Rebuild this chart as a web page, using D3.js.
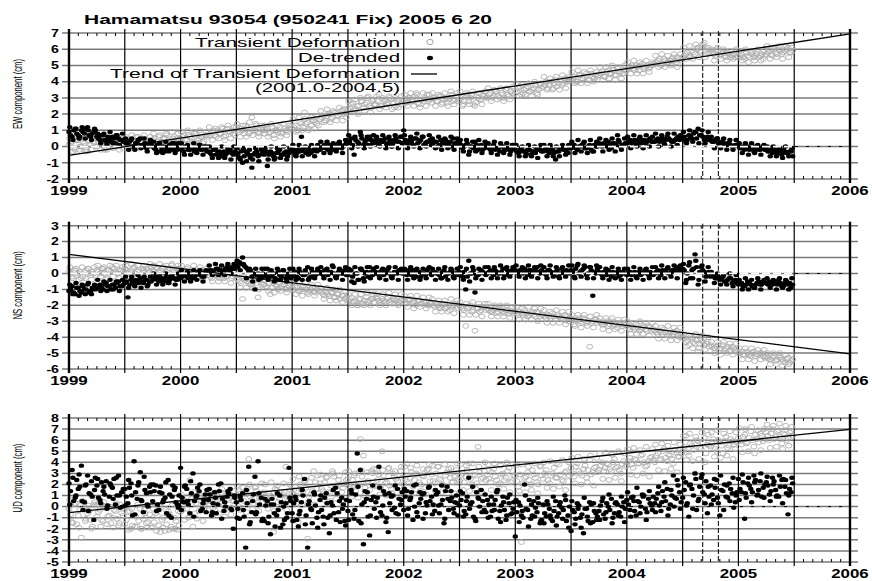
<!DOCTYPE html>
<html>
<head>
<meta charset="utf-8">
<script src="https://d3js.org/d3.v7.min.js"></script>
<style>
  body { margin: 0; background: #fff; }
  svg { display: block; font-family: "Liberation Sans", Arial, Helvetica, sans-serif; }
</style>
</head>
<body>
<script>
// GPS solutions thinned to one value every 1/36 year from 1999.0,
// plus extra sets taken a half ("Mid") or a quarter ("Q") step later
const epochStart = 1999;
const epochStep = 1 / 36;

const ewTransient = [
  0.1,0.3,-0.2,0.4,0.0,0.2,-0.3,0.1,0.3, 0.0,0.4,0.2,-0.1,0.3,0.1,0.5,0.0,0.2,
  0.3,0.1,0.4,0.2,-0.1,0.3,0.5,0.2,0.3, 0.4,0.2,0.6,0.3,0.5,0.1,0.4,0.6,0.5,
  0.5,0.7,0.4,0.6,0.3,0.8,0.5,0.6,0.7, 0.6,0.9,0.7,1.0,0.8,0.6,1.1,0.9,0.8,
  1.2,0.9,1.0,1.3,0.8,1.8,1.0,0.9,1.1, 0.8,1.1,0.9,0.7,1.0,1.2,0.9,1.0,1.1,
  1.1,1.3,1.0,1.4,2.1,1.5,1.3,1.6,1.4, 1.7,1.9,1.6,2.0,1.8,2.1,1.9,2.2,2.0,
  2.3,2.6,2.2,2.5,3.0,2.4,2.7,2.5,2.8, 2.6,3.2,2.5,2.8,2.7,2.9,2.4,2.8,2.6,
  2.9,2.7,3.0,2.8,3.3,2.6,2.9,3.0,2.8, 2.7,3.0,2.8,3.1,2.9,2.7,3.0,2.8,3.1,
  2.9,2.5,3.1,2.8,3.2,2.5,3.0,2.9,3.1, 3.0,3.3,3.1,3.4,3.0,3.2,3.5,3.1,3.3,
  3.3,3.6,3.2,3.5,3.7,3.4,3.6,3.3,3.8, 3.7,4.0,3.8,3.5,4.1,3.9,3.8,4.2,4.0,
  4.1,4.3,4.0,4.4,4.2,4.5,4.1,4.3,4.4, 4.4,4.6,4.3,4.7,4.5,4.4,4.8,4.6,4.5,
  4.7,4.9,4.8,5.0,4.7,5.1,4.9,4.8,5.0, 5.1,5.3,5.0,5.4,5.2,5.3,5.5,5.2,5.4,
  5.5,5.7,5.6,5.9,5.7,6.1,5.8,6.4,6.0, 5.9,5.7,6.0,5.6,5.8,5.5,5.7,5.6,5.5,
  5.5,5.7,5.4,5.6,5.8,5.5,5.7,5.6,5.4, 5.7,5.9,5.6,5.8,6.0,5.7,5.9,6.1,5.8
];
const ewTransientMid = [
  0.2,-0.1,0.4,0.0,0.3,-0.2,0.1,0.5,0.0, 0.3,0.1,-0.2,0.2,0.4,0.0,0.1,0.3,-0.1,
  0.1,0.4,0.2,0.6,0.0,0.3,0.2,0.4,0.1, 0.5,0.3,0.2,0.5,0.7,0.3,0.5,0.2,0.4,
  0.6,0.4,0.7,0.5,0.8,0.4,0.6,0.3,0.7, 0.7,1.0,0.6,0.8,1.1,0.7,0.9,1.0,0.7,
  1.0,1.1,0.8,1.2,0.9,1.0,1.3,0.8,1.0, 1.0,0.8,1.2,1.0,0.9,0.8,1.1,0.9,1.2,
  1.2,1.0,1.5,1.2,1.4,1.1,1.6,1.5,1.3, 1.8,1.6,2.0,1.7,2.1,1.9,2.0,2.3,1.8,
  2.4,2.7,2.3,2.5,2.8,2.6,3.1,2.4,2.6, 2.8,2.5,2.9,2.6,3.0,2.7,2.5,2.9,2.8,
  2.7,3.0,2.8,3.1,2.7,2.9,2.8,3.2,2.9, 3.0,2.8,3.1,2.7,3.0,2.9,3.2,2.9,2.8,
  3.0,2.8,3.2,3.0,2.6,3.1,2.9,3.2,3.0, 3.2,3.0,3.4,3.1,3.3,3.0,3.2,3.4,3.2,
  3.4,3.7,3.3,3.6,3.4,3.5,3.8,3.5,3.6, 3.8,3.6,4.0,3.9,3.7,4.1,3.9,4.0,4.2,
  4.2,4.0,4.4,4.2,4.3,4.1,4.5,4.2,4.3, 4.5,4.3,4.6,4.5,4.7,4.4,4.6,4.5,4.7,
  4.8,5.0,4.7,4.9,5.0,4.8,5.0,4.9,5.1, 5.2,5.4,5.1,5.3,5.2,5.4,5.3,5.5,5.3,
  5.6,5.8,5.5,5.8,6.0,5.9,6.3,5.9,5.8, 5.8,5.6,5.9,5.7,5.6,5.8,5.5,5.7,5.6,
  5.6,5.5,5.8,5.5,5.7,5.6,5.5,5.7,5.6, 5.8,5.7,6.0,5.7,5.9,5.8,6.0,5.8,5.9
];
const ewTransientQ = [
  0.5,-0.3,0.4,-0.2,0.5,-0.3,0.4,-0.2,0.5, 0.5,-0.2,0.6,-0.2,0.5,-0.1,0.6,-0.2,0.5,
  0.6,-0.1,0.7,-0.1,0.6,0.0,0.7,-0.1,0.6, 0.8,0.0,0.7,0.1,0.8,0.0,0.9,0.1,0.8,
  0.9,0.2,1.0,0.1,0.9,0.2,1.0,0.2,0.9, 1.2,0.4,1.1,0.5,1.2,0.4,1.3,0.5,1.2,
  1.4,0.6,1.3,0.6,1.5,0.7,1.4,0.6,1.3, 1.3,0.6,1.4,0.5,1.3,0.6,1.4,0.7,1.3,
  1.7,0.9,1.8,1.0,1.7,1.0,1.8,1.1,1.9, 2.2,1.5,2.3,1.5,2.2,1.6,2.4,1.6,2.3,
  2.8,2.1,2.9,2.0,2.8,2.2,3.0,2.1,2.9, 3.1,2.3,3.0,2.4,3.1,2.3,3.0,2.4,3.1,
  3.2,2.5,3.3,2.5,3.2,2.4,3.3,2.5,3.2, 3.3,2.5,3.2,2.6,3.3,2.5,3.4,2.6,3.3,
  3.4,2.6,3.3,2.6,3.4,2.7,3.3,2.6,3.4, 3.6,2.8,3.5,2.9,3.6,2.8,3.6,2.9,3.7,
  3.9,3.1,3.8,3.2,3.9,3.1,4.0,3.2,3.9, 4.3,3.5,4.2,3.6,4.3,3.5,4.4,3.6,4.3,
  4.6,3.9,4.7,3.9,4.6,3.9,4.7,4.0,4.6, 4.9,4.1,4.9,4.2,5.0,4.1,4.9,4.2,5.0,
  5.2,4.5,5.3,4.5,5.2,4.5,5.3,4.6,5.2, 5.6,4.9,5.7,4.9,5.6,5.0,5.7,4.9,5.7,
  6.1,5.4,6.2,5.4,6.3,5.5,6.2,5.5,6.1, 6.0,5.3,6.1,5.4,6.0,5.3,5.9,5.4,6.0,
  5.9,5.3,6.0,5.2,5.9,5.3,6.0,5.3,5.9, 6.2,5.4,6.1,5.5,6.2,5.4,6.2,5.5,6.1
];
const ewDetrended = [
  0.9,0.6,1.1,0.7,1.0,0.8,1.2,0.6,0.9, 0.6,0.4,0.7,0.3,0.5,0.6,0.2,0.5,0.4,
  0.3,0.1,0.4,0.0,0.2,0.5,0.1,-0.1,0.2, 0.0,-0.2,0.1,-0.1,-0.3,0.0,-0.1,0.2,-0.2,
  -0.1,-0.3,0.0,-0.2,-0.1,-0.3,0.1,-0.2,-0.1, -0.3,-0.5,-0.2,-0.4,-0.6,-0.3,-0.4,-0.2,-0.5,
  -0.4,-0.7,-1.0,-0.3,-0.5,-1.3,-0.4,-0.6,-0.2, -0.5,-1.2,-0.3,-0.6,-0.4,-0.2,-0.5,-0.3,-0.4,
  -0.3,-0.5,-0.2,0.6,-0.3,-0.1,-0.4,-0.2,-0.3, -0.2,0.0,-0.1,0.1,-0.2,0.0,0.2,-0.1,0.1,
  0.2,0.5,-0.5,0.3,0.9,0.1,0.4,0.6,0.2, 0.4,0.1,0.3,0.5,0.2,0.0,0.4,0.3,0.6,
  1.0,0.2,0.4,0.1,0.5,0.3,0.6,0.2,0.3, 0.1,0.3,0.0,0.4,0.2,0.1,0.3,0.5,0.1,
  0.2,-0.1,0.1,-0.5,0.0,0.3,-0.2,0.1,-0.1, 0.0,-0.2,0.1,-0.1,-0.3,0.0,-0.2,-0.1,0.1,
  -0.2,-0.4,-0.1,-0.3,-0.2,-0.5,-0.3,-0.1,-0.2, -0.3,-0.1,-0.4,-0.2,-0.8,-0.3,-0.1,-0.2,-0.4,
  -0.1,0.1,-0.2,0.0,0.2,-0.1,0.1,-0.3,0.0, 0.2,0.0,0.1,0.3,-0.1,0.2,0.7,0.0,0.1,
  0.2,0.4,0.3,0.1,0.5,0.3,0.2,0.4,0.3, 0.3,0.5,0.4,0.2,0.6,0.4,0.3,0.5,0.4,
  0.5,0.3,0.7,0.5,0.9,1.1,0.7,0.4,0.6, 0.4,0.3,0.5,0.2,0.3,0.1,0.2,0.0,0.1,
  0.0,-0.1,-0.2,0.0,-0.1,-0.3,-0.1,-0.2,0.0, -0.2,-0.3,-0.4,-0.2,-0.3,-0.5,-0.3,-0.4,-0.3
];
const ewDetrendedMid = [
  0.7,1.0,0.8,0.6,0.9,1.1,0.7,0.8,1.0, 0.5,0.7,0.4,0.6,0.3,0.5,0.7,0.4,0.3,
  0.2,0.3,0.0,0.2,0.4,0.1,0.2,0.0,0.1, -0.1,0.1,-0.3,0.0,-0.1,0.1,-0.2,0.0,-0.1,
  -0.2,0.0,-0.2,-0.1,-0.3,-0.1,-0.2,0.0,-0.3, -0.4,-0.2,-0.5,-0.3,-0.4,-0.5,-0.2,-0.4,-0.3,
  -0.5,-0.3,-0.6,-0.4,-0.7,-0.5,-0.3,-0.5,-0.4, -0.3,-0.5,-0.4,-0.7,-0.3,-0.5,-0.4,-0.6,-0.3,
  -0.2,-0.4,-0.3,-0.1,-0.4,-0.2,-0.3,-0.1,-0.2, -0.1,0.1,-0.2,0.0,0.1,-0.1,0.1,0.0,0.2,
  0.3,0.1,0.4,0.2,0.5,0.3,0.1,0.4,0.3, 0.2,0.4,0.3,0.1,0.4,0.2,0.5,0.3,0.2,
  0.4,0.2,0.3,0.5,0.2,0.4,0.1,0.3,0.4, 0.2,0.3,0.1,0.2,0.4,0.2,0.0,0.2,0.3,
  0.1,0.0,0.2,0.0,-0.1,0.1,0.0,-0.2,0.1, -0.1,0.0,-0.2,-0.1,0.0,-0.2,-0.1,-0.3,-0.1,
  -0.3,-0.2,-0.3,-0.4,-0.2,-0.3,-0.4,-0.2,-0.3, -0.2,-0.3,-0.2,-0.4,-0.3,-0.1,-0.2,-0.3,-0.1,
  0.0,-0.1,0.0,0.1,-0.1,0.0,-0.2,0.1,0.0, 0.1,0.2,0.0,0.1,0.2,0.1,0.3,0.1,0.2,
  0.3,0.2,0.4,0.3,0.2,0.4,0.3,0.5,0.3, 0.4,0.3,0.5,0.4,0.5,0.3,0.4,0.6,0.5,
  0.6,0.4,0.6,0.8,0.5,0.7,0.6,0.5,0.4, 0.3,0.4,0.2,0.3,0.1,0.2,0.1,0.0,0.1,
  -0.1,0.0,-0.1,-0.2,-0.1,0.0,-0.2,-0.1,-0.2, -0.3,-0.2,-0.3,-0.4,-0.3,-0.2,-0.4,-0.3,-0.6
];
const ewDetrendedQ = [
  1.2,0.4,1.1,0.5,1.2,0.5,1.0,0.4,1.1, 0.8,0.2,0.8,0.1,0.9,0.2,0.7,0.1,0.8,
  0.5,-0.2,0.5,-0.2,0.4,-0.1,0.5,-0.3,0.4, 0.3,-0.4,0.2,-0.4,0.3,-0.3,0.2,-0.4,0.2,
  0.2,-0.5,0.1,-0.5,0.2,-0.4,0.1,-0.5,0.0, 0.0,-0.7,-0.1,-0.7,0.0,-0.7,-0.1,-0.8,0.0,
  -0.1,-0.8,-0.1,-0.9,-0.2,-0.8,-0.1,-0.9,-0.1, -0.1,-0.8,0.0,-0.8,-0.1,-0.7,0.0,-0.8,-0.1,
  0.1,-0.6,0.1,-0.6,0.0,-0.5,0.1,-0.6,0.1, 0.3,-0.4,0.3,-0.4,0.2,-0.3,0.3,-0.4,0.4,
  0.7,-0.1,0.6,0.0,0.7,-0.1,0.6,0.0,0.7, 0.6,0.0,0.7,-0.1,0.6,0.0,0.7,-0.1,0.6,
  0.7,-0.1,0.6,0.0,0.8,-0.1,0.6,0.0,0.7, 0.5,-0.1,0.6,-0.2,0.5,-0.1,0.6,-0.2,0.5,
  0.4,-0.3,0.4,-0.3,0.3,-0.3,0.4,-0.4,0.3, 0.2,-0.4,0.3,-0.5,0.2,-0.4,0.2,-0.5,0.1,
  0.1,-0.6,0.0,-0.6,0.1,-0.6,0.0,-0.7,0.1, 0.1,-0.6,0.1,-0.6,0.0,-0.6,0.1,-0.5,0.1,
  0.3,-0.4,0.4,-0.3,0.3,-0.4,0.4,-0.3,0.3, 0.5,-0.3,0.4,-0.2,0.5,-0.3,0.4,-0.2,0.5,
  0.6,-0.1,0.7,0.0,0.6,-0.1,0.7,0.0,0.6, 0.8,0.0,0.7,0.1,0.8,0.0,0.8,0.1,0.7,
  0.9,0.2,1.0,0.3,0.9,0.2,1.0,0.2,0.9, 0.6,-0.1,0.5,-0.1,0.5,-0.2,0.4,-0.2,0.4,
  0.2,-0.4,0.2,-0.5,0.2,-0.4,0.1,-0.5,0.1, 0.0,-0.6,0.0,-0.6,-0.1,-0.7,0.0,-0.6,-0.1
];
const nsTransient = [
  0.1,-0.2,0.2,0.0,-0.3,0.1,0.3,-0.1,0.0, 0.2,0.0,0.3,-0.1,0.2,0.4,0.1,0.0,0.2,
  0.3,0.0,0.2,0.4,0.1,-0.1,0.2,0.3,0.1, 0.2,0.4,0.1,0.3,0.0,0.2,0.5,0.1,0.3,
  0.2,0.0,0.3,0.1,-0.1,0.2,0.0,0.1,-0.1, -0.1,-0.3,0.0,-0.2,-0.1,-0.3,-0.2,0.0,-0.2,
  -0.3,-0.5,-1.6,-0.4,-0.6,-0.7,-0.4,-1.5,-0.6, -0.7,-0.9,-1.3,-0.6,-0.8,-0.9,-0.7,-1.0,-0.8,
  -0.9,-0.8,-1.1,-1.0,-0.9,-1.2,-1.0,-1.1,-1.0, -1.1,-1.3,-1.2,-1.4,-1.2,-1.5,-1.3,-1.4,-1.6,
  -1.7,-1.5,-1.8,-2.0,-1.6,-1.9,-1.5,-1.7,-1.6, -1.5,-1.7,-1.6,-1.8,-1.5,-1.7,-1.6,-1.9,-1.7,
  -1.7,-1.9,-1.6,-1.8,-2.0,-1.7,-1.9,-1.8,-2.0, -1.9,-2.1,-2.0,-2.2,-1.9,-2.1,-2.3,-2.0,-2.1,
  -2.0,-2.2,-3.3,-2.1,-2.4,-3.6,-2.2,-2.3,-2.1, -2.2,-2.4,-2.3,-2.5,-2.2,-2.4,-2.3,-2.5,-2.4,
  -2.4,-2.6,-2.5,-2.3,-2.7,-2.5,-2.6,-2.4,-2.7, -2.6,-2.8,-2.7,-2.5,-2.9,-2.7,-2.8,-2.6,-3.0,
  -2.8,-3.2,-2.9,-3.0,-2.8,-3.1,-4.6,-3.0,-2.9, -3.0,-3.2,-3.1,-3.3,-3.0,-3.2,-3.4,-3.1,-3.2,
  -3.3,-3.5,-3.4,-3.2,-3.6,-3.4,-3.5,-3.3,-3.6, -3.6,-3.8,-3.7,-3.5,-3.9,-3.7,-3.8,-3.6,-4.0,
  -4.0,-4.3,-4.5,-4.1,-4.4,-4.9,-4.2,-4.5,-4.3, -4.5,-4.7,-4.6,-4.8,-4.5,-4.7,-4.9,-4.6,-4.8,
  -5.0,-4.9,-5.1,-5.0,-5.2,-4.9,-5.1,-5.0,-5.2, -5.2,-5.4,-5.3,-5.5,-5.2,-5.4,-5.6,-5.3,-5.5
];
const nsTransientMid = [
  0.0,0.2,-0.1,0.1,-0.2,0.2,0.0,0.1,-0.1, 0.1,0.3,0.0,0.2,0.1,0.3,0.0,0.2,0.1,
  0.2,0.1,0.3,0.0,0.2,0.3,0.1,0.2,0.4, 0.1,0.3,0.2,0.4,0.1,0.3,0.2,0.1,0.3,
  0.1,0.2,0.0,0.2,0.1,0.0,0.2,-0.1,0.1, -0.2,0.0,-0.1,-0.3,-0.1,-0.2,0.0,-0.3,-0.1,
  -0.4,-0.6,-0.3,-0.5,-0.7,-0.5,-0.6,-0.4,-0.7, -0.8,-0.6,-0.9,-0.7,-1.0,-0.8,-0.7,-0.9,-1.0,
  -1.0,-0.9,-1.1,-0.8,-1.0,-1.1,-0.9,-1.2,-1.1, -1.2,-1.4,-1.3,-1.2,-1.5,-1.3,-1.6,-1.4,-1.5,
  -1.6,-1.8,-1.7,-1.6,-1.9,-1.7,-1.8,-1.6,-1.8, -1.6,-1.8,-1.7,-1.6,-1.8,-1.6,-1.7,-1.8,-1.6,
  -1.8,-1.7,-1.9,-1.8,-1.7,-1.9,-1.8,-2.0,-1.9, -2.0,-1.9,-2.1,-2.0,-2.2,-2.0,-2.1,-1.9,-2.2,
  -2.1,-2.3,-2.2,-2.0,-2.3,-2.2,-2.4,-2.1,-2.3, -2.3,-2.4,-2.2,-2.4,-2.3,-2.5,-2.3,-2.4,-2.5,
  -2.5,-2.4,-2.6,-2.5,-2.6,-2.4,-2.7,-2.5,-2.6, -2.7,-2.6,-2.8,-2.7,-2.6,-2.8,-2.9,-2.7,-2.8,
  -2.9,-3.0,-2.8,-3.1,-2.9,-3.0,-3.1,-2.9,-3.1, -3.1,-3.2,-3.0,-3.2,-3.3,-3.1,-3.2,-3.3,-3.2,
  -3.4,-3.3,-3.5,-3.4,-3.5,-3.3,-3.6,-3.4,-3.5, -3.7,-3.6,-3.8,-3.7,-3.8,-3.9,-3.7,-3.9,-3.8,
  -4.1,-4.2,-4.0,-4.3,-4.2,-4.4,-4.3,-4.4,-4.6, -4.6,-4.7,-4.5,-4.7,-4.8,-4.6,-4.8,-4.7,-4.9,
  -5.0,-5.1,-4.9,-5.1,-5.0,-5.2,-5.1,-5.0,-5.3, -5.3,-5.4,-5.2,-5.4,-5.3,-5.5,-5.4,-5.6,-5.4
];
const nsTransientQ = [
  0.4,-0.3,0.3,-0.4,0.4,-0.3,0.3,-0.4,0.4, 0.5,-0.2,0.4,-0.3,0.5,-0.2,0.5,-0.3,0.4,
  0.5,-0.2,0.6,-0.2,0.5,-0.3,0.5,-0.2,0.6, 0.5,-0.2,0.6,-0.1,0.5,-0.2,0.6,-0.1,0.5,
  0.5,-0.3,0.4,-0.2,0.5,-0.3,0.4,-0.3,0.3, 0.2,-0.5,0.1,-0.5,0.2,-0.5,0.1,-0.6,0.1,
  -0.1,-0.9,-0.2,-0.9,-0.1,-0.9,-0.2,-1.0,-0.2, -0.4,-1.1,-0.4,-1.2,-0.4,-1.1,-0.5,-1.2,-0.5,
  -0.6,-1.3,-0.6,-1.4,-0.6,-1.3,-0.7,-1.4,-0.7, -0.9,-1.6,-0.9,-1.7,-1.0,-1.7,-1.0,-1.8,-1.1,
  -1.3,-2.0,-1.3,-2.0,-1.3,-2.0,-1.2,-2.0,-1.3, -1.3,-2.0,-1.3,-2.0,-1.2,-1.9,-1.3,-2.0,-1.3,
  -1.4,-2.1,-1.4,-2.2,-1.4,-2.1,-1.5,-2.2,-1.5, -1.6,-2.4,-1.7,-2.4,-1.7,-2.4,-1.6,-2.5,-1.7,
  -1.8,-2.6,-1.9,-2.6,-1.8,-2.6,-1.9,-2.7,-1.9, -1.9,-2.7,-2.0,-2.7,-2.0,-2.7,-2.0,-2.8,-2.1,
  -2.1,-2.9,-2.2,-2.9,-2.1,-2.9,-2.2,-3.0,-2.2, -2.3,-3.1,-2.4,-3.1,-2.3,-3.1,-2.4,-3.2,-2.4,
  -2.6,-3.3,-2.6,-3.4,-2.6,-3.3,-2.7,-3.4,-2.6, -2.8,-3.5,-2.8,-3.6,-2.8,-3.5,-2.9,-3.6,-2.9,
  -3.0,-3.8,-3.1,-3.8,-3.0,-3.8,-3.1,-3.9,-3.1, -3.3,-4.1,-3.4,-4.1,-3.3,-4.2,-3.4,-4.2,-3.4,
  -3.8,-4.6,-3.9,-4.7,-3.8,-4.7,-3.9,-4.8,-4.0, -4.3,-5.0,-4.3,-5.1,-4.3,-5.0,-4.4,-5.1,-4.4,
  -4.7,-5.4,-4.7,-5.4,-4.7,-5.5,-4.8,-5.4,-4.8, -5.0,-5.7,-5.0,-5.7,-5.0,-5.8,-5.1,-5.7,-5.1
];
const nsDetrended = [
  -1.1,-0.8,-1.3,-0.9,-1.2,-1.0,-0.7,-1.1,-0.9, -0.9,-0.7,-1.0,-0.6,-0.8,-0.7,-0.9,-0.5,-0.8,
  -0.6,-1.5,-0.4,-0.7,-0.5,-0.3,-0.6,-0.4,-0.5, -0.4,-0.2,-0.5,-0.3,-0.4,-0.6,-0.2,-0.3,-0.4,
  -0.3,-0.1,-0.2,0.0,-0.3,-0.1,0.1,-0.2,0.0, 0.1,0.2,0.0,0.3,0.2,0.1,0.4,0.2,0.3,
  0.5,0.7,1.0,0.4,0.1,-0.2,-1.0,0.0,-0.3, -0.1,0.3,-0.2,0.0,-0.4,-0.1,0.2,-0.3,0.0,
  -0.2,0.1,-0.3,0.0,-0.1,0.4,-0.2,0.0,0.1, 0.1,-0.1,0.2,0.0,0.5,-0.2,0.1,0.0,0.2,
  -0.1,0.2,-0.6,0.0,0.3,-0.3,0.1,0.4,-0.1, 0.1,-0.1,0.2,0.0,0.3,-0.2,0.1,0.0,0.2,
  0.1,-0.1,0.0,0.2,-0.2,0.1,0.0,-0.1,0.3, -0.1,0.1,0.0,-0.3,0.2,0.0,0.1,-0.2,0.0,
  0.1,-0.2,-1.0,0.8,0.0,-1.2,-0.1,0.2,0.0, 0.0,0.2,-0.1,0.1,0.0,0.3,-0.1,0.1,0.2,
  0.2,0.0,0.1,0.3,-0.1,0.2,0.1,0.4,0.0, 0.1,-0.1,0.2,0.0,0.1,-0.2,0.3,0.0,0.1,
  0.2,-0.2,0.5,0.1,0.3,-0.1,0.4,-1.4,0.0, 0.1,-0.1,0.0,0.2,-0.2,0.0,0.1,-0.1,0.0,
  -0.1,0.1,0.0,-0.2,0.1,0.0,0.2,-0.1,0.0, 0.0,0.2,-0.1,0.1,0.3,0.0,0.2,0.4,0.1,
  0.3,-0.6,0.5,0.2,1.2,-0.7,0.4,0.1,0.0, -0.2,-0.1,-0.3,-0.4,-0.2,-0.5,-0.3,-0.6,-0.4,
  -0.7,-0.6,-0.8,-0.5,-0.7,-0.9,-0.6,-0.7,-0.5, -0.6,-0.5,-0.7,-0.6,-0.4,-0.8,-0.6,-0.7,-0.9
];
const nsDetrendedMid = [
  -1.0,-1.2,-0.9,-1.1,-0.8,-1.0,-1.2,-0.9,-1.0, -0.8,-0.9,-0.7,-0.8,-1.0,-0.7,-0.6,-0.8,-0.7,
  -0.5,-0.7,-0.5,-0.4,-0.6,-0.5,-0.4,-0.7,-0.5, -0.3,-0.4,-0.3,-0.5,-0.2,-0.4,-0.3,-0.4,-0.2,
  -0.2,-0.1,-0.3,-0.1,-0.2,0.0,-0.1,-0.2,0.1, 0.2,0.1,0.3,0.2,0.0,0.3,0.2,0.4,0.3,
  0.4,0.6,0.5,0.3,0.2,0.0,-0.1,-0.2,0.0, -0.2,0.0,-0.1,-0.3,0.1,-0.2,0.0,-0.1,-0.3,
  0.0,-0.2,0.1,-0.1,0.0,-0.3,0.1,-0.1,0.0, 0.0,0.2,-0.1,0.1,0.0,-0.1,0.2,0.0,-0.1,
  0.1,-0.2,0.0,-0.4,0.2,0.0,-0.2,0.1,0.0, 0.0,0.1,-0.1,0.2,0.0,-0.1,0.1,0.2,0.0,
  0.0,0.2,-0.1,0.0,0.1,-0.2,0.0,0.2,0.0, 0.1,0.0,-0.1,0.1,-0.2,0.0,0.2,0.0,-0.1,
  0.0,0.1,-0.2,0.0,0.2,-0.1,0.0,0.1,-0.1, 0.1,0.0,0.2,0.0,0.1,-0.1,0.2,0.0,0.1,
  0.1,0.2,0.0,0.1,0.2,0.0,0.3,0.1,0.2, 0.0,0.2,0.1,-0.1,0.2,0.0,0.1,0.2,0.0,
  0.1,0.3,0.0,0.2,0.4,0.0,0.2,0.1,0.3, 0.0,0.1,-0.1,0.0,0.1,0.0,-0.2,0.1,0.0,
  0.0,-0.1,0.1,0.0,-0.1,0.1,0.0,0.1,-0.1, 0.1,0.0,0.2,0.1,0.0,0.2,0.1,0.3,0.2,
  0.2,0.0,-0.3,0.3,0.4,0.1,0.2,-0.2,0.1, -0.1,-0.3,-0.2,-0.3,-0.5,-0.4,-0.3,-0.5,-0.6,
  -0.6,-0.8,-0.7,-0.6,-0.8,-0.7,-0.5,-0.7,-0.6, -0.7,-0.6,-0.5,-0.7,-0.6,-0.8,-0.5,-0.6,-0.7
];
const nsDetrendedQ = [
  -0.7,-1.3,-0.6,-1.4,-0.7,-1.3,-0.6,-1.3,-0.7, -0.4,-1.1,-0.5,-1.1,-0.4,-1.0,-0.5,-1.1,-0.4,
  -0.2,-0.9,-0.2,-0.8,-0.1,-0.9,-0.2,-0.8,-0.2, 0.0,-0.7,-0.1,-0.7,0.0,-0.6,-0.1,-0.7,0.0,
  0.2,-0.5,0.1,-0.5,0.2,-0.4,0.2,-0.5,0.2, 0.5,-0.1,0.6,-0.1,0.5,-0.1,0.6,0.0,0.6,
  0.8,0.2,0.6,-0.3,0.3,-0.5,0.3,-0.4,0.3, 0.3,-0.4,0.2,-0.5,0.3,-0.4,0.2,-0.5,0.3,
  0.3,-0.4,0.3,-0.4,0.2,-0.4,0.3,-0.3,0.3, 0.4,-0.3,0.3,-0.4,0.4,-0.3,0.3,-0.4,0.4,
  0.3,-0.5,0.4,-0.4,0.3,-0.5,0.4,-0.3,0.3, 0.4,-0.3,0.3,-0.4,0.4,-0.3,0.4,-0.4,0.3,
  0.3,-0.4,0.4,-0.3,0.3,-0.4,0.3,-0.3,0.4, 0.3,-0.4,0.3,-0.3,0.4,-0.4,0.3,-0.3,0.3,
  0.4,-0.4,0.3,-0.5,0.4,-0.3,0.3,-0.4,0.4, 0.4,-0.3,0.4,-0.3,0.5,-0.3,0.4,-0.2,0.4,
  0.5,-0.2,0.4,-0.3,0.5,-0.2,0.4,-0.3,0.5, 0.4,-0.3,0.5,-0.2,0.4,-0.3,0.4,-0.2,0.5,
  0.5,-0.3,0.6,-0.2,0.5,-0.3,0.4,-0.3,0.5, 0.4,-0.3,0.3,-0.4,0.4,-0.3,0.3,-0.4,0.3,
  0.3,-0.4,0.4,-0.3,0.3,-0.4,0.3,-0.3,0.4, 0.4,-0.3,0.5,-0.3,0.4,-0.2,0.5,-0.3,0.5,
  0.6,-0.4,0.7,-0.3,0.8,-0.4,0.5,-0.5,0.4, 0.1,-0.6,0.0,-0.7,-0.1,-0.7,0.0,-0.8,-0.1,
  -0.4,-1.0,-0.3,-1.0,-0.4,-0.9,-0.3,-1.0,-0.4, -0.3,-0.9,-0.4,-1.0,-0.3,-0.9,-0.4,-1.0,-0.3
];
const udTransient = [
  -0.2,-1.4,0.3,-0.8,-2.8,0.0,-0.6,-1.2,0.2, -0.9,-0.3,-1.3,0.1,-0.8,-1.0,-0.4,-1.7,-0.6,
  -1.6,-0.5,-2.0,-0.8,-1.8,-0.2,-1.1,-1.5,-0.7, -1.9,-0.6,-1.7,-1.2,-2.2,-0.4,-1.8,-1.0,-2.1,
  -0.5,0.6,-0.2,2.4,-1.8,0.3,-0.4,0.8,0.0, 0.2,0.9,-0.3,0.6,1.1,0.1,0.7,-0.1,0.5,
  0.9,1.4,0.3,1.1,4.3,0.6,1.7,0.4,1.2, 1.3,0.5,1.0,-2.3,1.5,0.7,1.1,3.6,0.8,
  1.2,1.8,-1.4,1.5,2.3,-2.9,1.1,3.2,1.6, 2.1,1.4,2.6,1.2,3.2,1.9,2.4,1.3,2.0,
  2.5,1.6,2.8,1.9,6.1,4.6,2.2,1.5,3.0, 1.8,2.9,5.0,2.1,3.4,1.6,2.7,2.3,3.2,
  2.0,3.9,2.6,1.8,3.0,2.2,2.8,1.7,3.4, 2.9,2.1,3.6,2.4,1.9,3.1,2.6,2.2,3.3,
  2.3,3.0,2.7,3.9,2.0,2.8,5.4,2.5,3.2, 2.9,2.2,3.4,2.4,2.1,3.0,2.6,3.5,2.3,
  2.8,1.8,-3.2,2.6,3.1,2.0,2.9,2.2,3.6, 2.5,3.3,2.1,3.0,2.6,3.8,2.4,3.1,2.7,
  3.5,2.7,3.9,3.0,3.4,2.6,4.2,3.1,3.6, 3.3,4.0,3.5,3.8,3.2,4.3,3.6,3.0,4.1,
  3.7,4.4,3.5,4.2,3.9,4.7,3.6,4.1,4.5, 4.0,4.8,4.3,5.2,4.1,4.6,3.9,4.9,4.5,
  5.0,6.4,4.6,5.5,3.0,5.9,5.2,6.2,5.6, 5.4,6.1,5.0,5.8,4.8,6.3,5.5,5.9,5.2,
  6.2,5.6,6.5,5.8,6.8,5.4,6.1,6.6,5.9, 6.7,6.0,7.0,6.3,6.9,5.7,6.5,6.2,6.8
];
const udTransientMid = [
  -0.7,0.2,-1.6,-0.3,0.5,-1.1,-0.4,-1.8,0.1, -0.5,-1.2,-0.1,-0.9,-1.5,-0.3,-1.1,0.2,-0.8,
  -1.2,-0.4,-1.7,-0.9,-1.3,-2.0,-0.6,-1.4,-1.9, -1.4,-0.8,-2.3,-1.0,-1.6,-0.7,-2.0,-1.3,-1.7,
  -0.3,0.4,-1.0,0.7,-0.6,0.2,1.0,-0.2,0.5, 0.5,-0.1,0.8,0.3,1.2,-0.2,0.6,1.0,0.2,
  0.7,1.2,0.5,1.6,0.9,0.3,1.4,0.8,1.1, 0.6,1.2,0.9,1.6,0.4,1.0,1.3,0.7,1.5,
  1.5,1.0,2.0,1.3,1.7,0.9,1.4,2.2,1.2, 1.6,2.2,1.3,1.9,2.7,1.5,2.0,1.7,2.4,
  1.8,2.4,1.4,2.1,2.7,1.7,2.3,3.2,1.9, 2.4,1.7,2.8,2.2,1.9,3.0,2.5,1.8,2.6,
  2.6,2.1,3.1,2.4,2.9,2.0,2.7,3.3,2.3, 2.3,3.0,2.5,2.0,2.8,3.4,2.2,2.7,2.5,
  2.8,2.2,3.3,2.5,2.9,2.1,3.1,2.6,2.4, 2.5,3.1,2.7,2.0,2.9,2.4,3.2,2.2,2.8,
  2.3,2.9,2.1,2.7,2.4,3.3,2.6,2.0,2.8, 3.0,2.4,2.8,3.5,2.6,2.9,2.3,3.2,2.8,
  3.0,3.6,3.2,2.8,3.7,3.3,2.9,3.5,3.1, 3.7,3.2,3.9,3.4,4.0,3.5,3.3,3.8,3.6,
  4.1,3.8,4.3,3.9,4.6,4.0,3.7,4.4,4.2, 4.6,4.2,5.0,4.4,4.7,4.3,5.1,4.5,4.8,
  5.4,4.9,5.7,5.1,6.0,5.3,5.8,4.8,5.5, 5.7,5.2,6.0,5.5,5.9,5.3,6.1,5.6,5.8,
  5.9,6.3,5.7,6.2,6.0,6.5,5.8,6.4,6.1, 6.4,6.6,6.1,6.8,6.3,6.6,6.0,6.7,6.4
];
const udTransientQ = [
  0.6,-1.5,0.3,-1.9,0.5,-1.3,0.1,-2.0,0.4, 0.2,-1.8,0.4,-1.6,0.0,-1.9,0.3,-1.5,-0.1,
  0.0,-2.1,-0.2,-1.8,0.2,-2.0,-0.3,-1.9,0.1, -0.2,-2.2,0.0,-1.9,-0.3,-2.1,0.1,-2.0,-0.4,
  1.1,-1.2,0.9,-0.9,1.3,-1.1,0.8,-1.3,1.0, 1.5,-0.8,1.3,-0.6,1.6,-0.9,1.2,-0.7,1.4,
  1.9,-0.3,1.7,-0.5,2.0,-0.2,1.8,-0.4,2.1, 2.0,-0.2,2.2,-0.4,1.9,-0.1,2.1,-0.3,2.0,
  2.5,0.3,2.7,0.1,2.4,0.4,2.6,0.2,2.8, 2.9,0.6,2.7,0.5,3.0,0.7,2.8,0.4,3.1,
  3.2,0.9,3.0,0.8,3.3,1.0,3.1,0.7,3.4, 3.4,1.1,3.3,1.0,3.5,1.2,3.2,0.9,3.6,
  3.6,1.3,3.5,1.2,3.7,1.4,3.4,1.1,3.8, 3.7,1.4,3.6,1.3,3.8,1.5,3.5,1.2,3.9,
  3.8,1.5,3.7,1.4,3.9,1.6,3.6,1.3,4.0, 3.8,1.5,3.9,1.4,3.7,1.6,4.0,1.3,3.8,
  3.7,1.4,3.8,1.3,3.6,1.5,3.9,1.2,3.7, 4.0,1.7,4.1,1.6,3.9,1.8,4.2,1.5,4.0,
  4.4,2.1,4.5,2.0,4.3,2.2,4.6,1.9,4.4, 4.8,2.5,4.9,2.4,4.7,2.6,5.0,2.3,4.8,
  5.2,2.9,5.3,2.8,5.1,3.0,5.4,2.7,5.2, 5.6,3.3,5.7,3.2,5.5,3.4,5.8,3.1,5.6,
  6.4,4.2,6.6,4.1,6.3,4.3,6.7,4.0,6.5, 6.7,4.5,6.9,4.4,6.6,4.6,6.8,4.3,6.7,
  7.1,4.9,7.0,5.0,7.2,4.8,6.9,5.1,7.0, 7.4,5.3,7.3,5.4,7.5,5.2,7.3,5.5,7.2
];
const udDetrended = [
  2.1,3.3,0.8,1.6,3.7,0.4,2.8,1.1,-1.2, 1.9,0.6,1.4,2.3,0.9,1.7,0.2,2.8,1.3,
  1.6,0.3,2.1,4.1,0.7,3.1,-0.5,1.2,1.8, 0.5,1.9,-0.3,1.2,0.8,2.4,-1.0,1.5,0.2,
  3.5,0.4,1.6,-0.6,3.0,0.9,1.4,-0.2,1.1, 0.6,-0.8,1.3,0.2,2.1,-0.4,0.9,1.6,-2.0,
  0.4,-1.1,1.2,-3.7,3.6,-0.5,2.7,4.1,0.8, -1.3,0.5,-2.5,0.2,-0.8,1.0,-1.6,0.3,3.5,
  -0.6,0.9,-1.8,0.4,2.5,-3.7,-0.2,1.3,-1.0, 0.6,-0.9,1.2,-2.4,0.1,1.7,-0.5,0.8,-1.3,
  -0.4,1.5,-1.1,4.8,3.3,-3.4,0.7,-2.6,1.9, 0.4,3.6,-0.8,1.1,-2.3,0.9,-0.1,1.6,0.2,
  -0.3,1.4,0.6,-1.2,2.0,0.3,1.1,-0.6,1.7, 0.9,-0.4,1.3,0.2,-1.5,1.8,0.5,-0.2,1.0,
  0.1,1.2,-0.7,2.6,0.4,-1.1,0.8,1.5,-0.3, 0.6,-0.9,0.2,1.3,-0.4,0.9,-1.2,0.3,-0.6,
  -2.7,0.4,-0.8,2.0,-0.3,-1.1,0.5,-0.5,-1.5, 0.2,-0.9,-0.2,-1.3,0.5,-0.6,-0.1,1.0,-0.8,
  -2.2,-0.5,0.3,-1.0,-2.4,-0.2,0.4,-1.4,-0.6, -0.4,0.5,-1.1,0.0,0.7,-0.6,0.2,-0.9,0.4,
  0.6,-0.3,0.9,-0.8,0.4,1.1,-0.2,0.7,0.1, 0.3,1.2,-0.4,0.9,1.6,0.2,2.8,0.7,1.3,
  0.8,2.2,-0.9,1.6,3.0,0.5,2.6,1.1,-0.6, 1.9,0.6,2.4,-0.8,1.4,0.9,2.1,1.2,0.4,
  2.5,1.3,-1.1,2.1,1.6,2.8,1.0,2.3,1.7, 2.2,1.1,2.6,1.5,0.9,2.4,1.8,-0.7,1.3
];
const udDetrendedMid = [
  1.4,0.5,2.4,1.8,-0.3,2.0,1.2,0.9,2.6, 0.8,2.2,1.1,0.1,1.9,2.5,1.0,-0.1,1.6,
  0.9,1.7,-0.8,1.3,2.2,0.5,1.5,0.0,2.0, 1.4,0.2,1.8,0.6,-0.6,1.1,1.9,0.4,1.0,
  0.8,1.9,0.2,1.2,0.5,1.7,-0.4,0.6,1.5, 1.1,0.3,-0.6,1.4,0.7,0.0,1.2,-0.3,0.8,
  -0.2,0.6,-0.9,0.3,-1.4,1.1,-0.5,0.2,-1.1, 0.1,-0.9,0.7,-1.8,-0.3,0.4,-1.2,-0.6,0.5,
  0.3,-1.2,-0.4,1.0,-0.8,0.5,-1.5,0.1,-0.5, -0.3,0.8,-1.0,0.4,-0.6,1.2,-1.4,0.2,0.6,
  0.5,-0.7,1.1,-1.3,0.2,1.4,-0.9,0.6,-0.2, 0.8,-0.5,1.4,-1.0,0.3,1.0,-0.6,0.7,1.3,
  0.9,-0.2,1.3,0.0,-0.9,0.7,1.2,0.1,0.5, 0.2,1.1,-0.6,0.6,1.4,-0.3,0.8,0.4,-0.8,
  0.6,-0.4,0.9,0.2,-0.9,1.3,0.0,0.5,-0.5, 0.2,-0.4,0.6,-1.1,0.1,-0.3,0.8,-0.7,0.4,
  -0.5,0.1,-1.0,-0.2,0.6,-0.8,-0.1,0.3,-1.2, -0.6,0.2,-1.1,-0.4,-0.9,0.4,-0.3,-1.3,0.0,
  -0.3,-1.1,0.1,-0.7,-0.2,-1.3,0.2,-0.4,-0.9, 0.1,-0.7,0.3,-0.3,-1.0,0.4,-0.5,0.0,-0.2,
  0.2,0.8,-0.4,0.5,0.0,1.0,-0.5,0.3,0.9, 0.7,0.1,1.4,0.5,-0.2,1.0,0.8,1.9,0.4,
  1.5,0.3,2.0,1.0,-0.3,1.8,1.3,2.3,0.9, 1.1,1.7,0.3,1.5,2.0,0.8,1.6,-0.1,1.3,
  1.6,2.2,0.8,1.9,1.3,2.4,1.5,0.9,2.0, 1.9,1.4,2.3,1.0,1.8,2.5,1.2,1.6,2.1
];
const udDetrendedQ = [
  0.2,2.6,1.0,2.9,0.5,1.9,-0.4,2.3,1.5, 2.5,0.3,1.8,-0.2,2.1,0.7,2.6,1.0,0.0,
  0.1,2.4,1.0,-0.7,1.9,0.6,2.7,0.2,1.3, 2.0,-0.4,1.3,0.4,2.2,-0.8,0.9,1.7,-0.1,
  -0.3,1.8,0.5,2.3,-0.9,1.0,2.0,0.3,-0.5, 1.6,-0.5,0.8,2.0,-1.1,0.4,1.4,-0.2,1.0,
  -1.0,0.9,-0.3,1.5,-1.6,0.5,-0.7,1.2,-1.3, 0.7,-1.5,0.2,-0.6,1.2,-1.9,0.0,-1.0,0.8,
  -1.3,0.6,-0.7,1.5,-1.6,0.2,-0.3,1.1,-1.9, 1.0,-1.6,0.3,-0.8,1.5,-1.2,0.5,-0.2,-1.7,
  -1.2,1.2,-0.3,1.8,-1.5,0.4,1.3,-0.8,0.9, -1.0,1.7,0.1,-1.4,1.2,-0.3,1.9,-0.7,0.6,
  1.6,-0.8,0.8,1.9,-0.5,1.3,-1.1,0.4,1.8, -0.7,1.5,0.1,1.9,-1.1,0.7,1.4,-0.6,0.3,
  1.4,-0.9,0.5,-0.2,1.8,-1.3,0.7,-0.5,1.1, -1.0,0.9,-0.3,1.5,-1.4,0.4,-0.8,1.1,-0.2,
  0.6,-1.4,-0.4,1.0,-1.8,0.2,-0.9,0.8,-1.3, -1.5,0.5,-0.8,0.9,-1.7,0.1,-1.1,0.6,-1.9,
  0.5,-1.6,-0.2,-1.9,0.8,-0.9,-1.5,0.3,-1.2, -1.2,0.8,-0.5,1.1,-1.5,0.3,-0.8,0.9,-1.4,
  1.3,-0.9,0.5,1.7,-0.6,0.9,-1.2,1.4,-0.3, -0.5,1.8,0.4,2.2,-0.8,1.5,0.0,2.4,-0.2,
  2.6,0.1,1.9,-0.2,2.5,0.7,2.9,0.3,1.8, 0.2,2.5,0.8,2.8,-0.3,1.9,0.5,2.6,1.0,
  0.6,2.9,1.2,2.6,0.4,2.2,1.1,3.0,0.8, 2.7,0.5,2.0,0.9,2.8,0.3,2.4,1.0,2.6
];

// linear trend fitted over 2001.0-2004.5, drawn across the whole window
const trendYears = [1999, 2006];
const ewTrend = [-0.55, 6.95];
const nsTrend = [1.2, -5.05];
const udTrend = [-0.55, 6.98];

const yearTicks = [1999, 2000, 2001, 2002, 2003, 2004, 2005, 2006];
const eventYears = [2004.68, 2004.82];   // dashed markers
const dataEnd = 2005.5;

const chartTitle = "Hamamatsu 93054 (950241 Fix) 2005 6 20";
const legendLabels = ["Transient Deformation", "De-trended", "Trend of Transient Deformation", "(2001.0-2004.5)"];

const panels = [
  {name: "EW component (cm)", top: 33, bottom: 179, domain: [-2, 7],
   transient: [[ewTransient, 0], [ewTransientMid, 0.5], [ewTransientQ, 0.25]],
   detrended: [[ewDetrended, 0], [ewDetrendedMid, 0.5], [ewDetrendedQ, 0.25]],
   trend: ewTrend, whiteZero: true},
  {name: "NS component (cm)", top: 225.7, bottom: 369, domain: [-6, 3],
   transient: [[nsTransient, 0], [nsTransientMid, 0.5], [nsTransientQ, 0.25]],
   detrended: [[nsDetrended, 0], [nsDetrendedMid, 0.5], [nsDetrendedQ, 0.25]],
   trend: nsTrend, whiteZero: true},
  {name: "UD component (cm)", top: 418, bottom: 562, domain: [-5, 8],
   transient: [[udTransient, 0], [udTransientMid, 0.5], [udTransientQ, 0.25]],
   detrended: [[udDetrended, 0], [udDetrendedMid, 0.5], [udDetrendedQ, 0.25]],
   trend: udTrend, whiteZero: false}
];

const W = 872, H = 581;
const svg = d3.select("body").append("svg").attr("width", W).attr("height", H);

const x = d3.scaleLinear().domain([1999, 2006]).range([69, 850]);
const SX = 1.35; // glyphs in the original are stretched sideways

svg.append("text")
  .attr("x", 84).attr("y", 24)
  .attr("font-size", 13).attr("font-weight", "bold")
  .attr("textLength", 408).attr("lengthAdjust", "spacingAndGlyphs")
  .text(chartTitle);

const halfYears = d3.range(1999.5, 2006, 0.5);
const months = d3.range(0, 84).map(k => 1999 + k / 12).filter(m => Math.abs(m * 2 - Math.round(m * 2)) > 1e-6);

// [time, value] pairs from the sample sets, each with its step offset
const samples = sets => sets.flatMap(([arr, off]) => arr.map((v, i) => [epochStart + (i + off) * epochStep, v]));

panels.forEach(p => {
  const y = d3.scaleLinear().domain(p.domain).range([p.bottom, p.top]);
  const g = svg.append("g");
  const yTicks = d3.range(p.domain[0], p.domain[1] + 1);

  // horizontal grid
  g.append("g").selectAll("line").data(yTicks).join("line")
    .attr("x1", 62).attr("x2", 858)
    .attr("y1", d => y(d)).attr("y2", d => y(d))
    .attr("stroke", "#7a7a7a").attr("stroke-width", 1.5);

  // half-year verticals
  g.append("g").selectAll("line").data(halfYears).join("line")
    .attr("x1", d => x(d)).attr("x2", d => x(d))
    .attr("y1", p.top - 4).attr("y2", p.bottom + 4)
    .attr("stroke", "#000").attr("stroke-width", 1.2);

  // monthly minor ticks
  g.append("g").selectAll("path").data(months).join("path")
    .attr("d", d => `M${x(d)},${p.top}v3M${x(d)},${p.bottom}v-3`)
    .attr("stroke", "#000").attr("stroke-width", 1);

  // event markers
  g.append("g").selectAll("line").data(eventYears).join("line")
    .attr("x1", d => x(d)).attr("x2", d => x(d))
    .attr("y1", p.top - 2).attr("y2", p.bottom)
    .attr("stroke", "#000").attr("stroke-width", 1).attr("stroke-dasharray", "5,2");

  // zero reference, dotted
  g.append("line")
    .attr("x1", x(1999)).attr("x2", x(2006) - 8)
    .attr("y1", y(0)).attr("y2", y(0))
    .attr("stroke", "#000").attr("stroke-width", 1).attr("stroke-dasharray", "3,8");

  g.append("g").selectAll("ellipse").data(samples(p.transient)).join("ellipse")
    .attr("cx", d => x(d[0])).attr("cy", d => y(d[1]))
    .attr("rx", 3.0).attr("ry", 2.4)
    .attr("fill", "none").attr("stroke", "#ababab").attr("stroke-width", 0.85);

  g.append("g").selectAll("ellipse").data(samples(p.detrended)).join("ellipse")
    .attr("cx", d => x(d[0])).attr("cy", d => y(d[1]))
    .attr("rx", 2.7).attr("ry", 2.2)
    .attr("fill", "#000");

  if (p.whiteZero) {
    g.append("line")
      .attr("x1", x(1999)).attr("x2", x(dataEnd))
      .attr("y1", y(0)).attr("y2", y(0))
      .attr("stroke", "#fff").attr("stroke-width", 1.8).attr("stroke-dasharray", "8,3");
  }

  // trend
  g.append("line")
    .attr("x1", x(trendYears[0])).attr("x2", x(trendYears[1]))
    .attr("y1", y(p.trend[0])).attr("y2", y(p.trend[1]))
    .attr("stroke", "#000").attr("stroke-width", 1.3);

  // frame sides
  [1999, 2006].forEach(v => {
    g.append("line")
      .attr("x1", x(v)).attr("x2", x(v))
      .attr("y1", p.top - 4).attr("y2", p.bottom + 4)
      .attr("stroke", "#000").attr("stroke-width", 2.4);
  });

  // y tick labels
  g.append("g").selectAll("text").data(yTicks).join("text")
    .attr("transform", d => `translate(59,${y(d) + 3.8}) scale(${SX},1)`)
    .attr("text-anchor", "end")
    .attr("font-size", 10.5).attr("font-weight", "bold")
    .text(d => d);

  // x tick labels
  g.append("g").selectAll("text").data(yearTicks).join("text")
    .attr("transform", d => `translate(${x(d)},${p.bottom + 16}) scale(${SX},1)`)
    .attr("text-anchor", "middle")
    .attr("font-size", 12.5).attr("font-weight", "bold")
    .text(d => d);

  // axis title (tall, narrow glyphs as in the original)
  g.append("text")
    .attr("transform", `translate(22,${(p.top + p.bottom) / 2 - 12}) scale(1.55,1) rotate(-90)`)
    .attr("text-anchor", "middle")
    .attr("font-size", 7.7)
    .text(p.name);
});

// legend
const lg = svg.append("g").attr("font-size", 13);
const legendY = [46.7, 62.3, 78, 91.5];
const legendW = [205, 102, 290, 145];
legendLabels.forEach((s, i) => {
  lg.append("text")
    .attr("x", 400 - legendW[i]).attr("y", legendY[i])
    .attr("textLength", legendW[i]).attr("lengthAdjust", "spacingAndGlyphs")
    .text(s);
});
lg.append("ellipse").attr("cx", 430).attr("cy", 42).attr("rx", 3.2).attr("ry", 2.6)
  .attr("fill", "none").attr("stroke", "#999").attr("stroke-width", 0.9);
lg.append("ellipse").attr("cx", 430).attr("cy", 58).attr("rx", 3).attr("ry", 2.2).attr("fill", "#000");
lg.append("line").attr("x1", 411).attr("x2", 437).attr("y1", 74).attr("y2", 74)
  .attr("stroke", "#000").attr("stroke-width", 1.3);
</script>
</body>
</html>
